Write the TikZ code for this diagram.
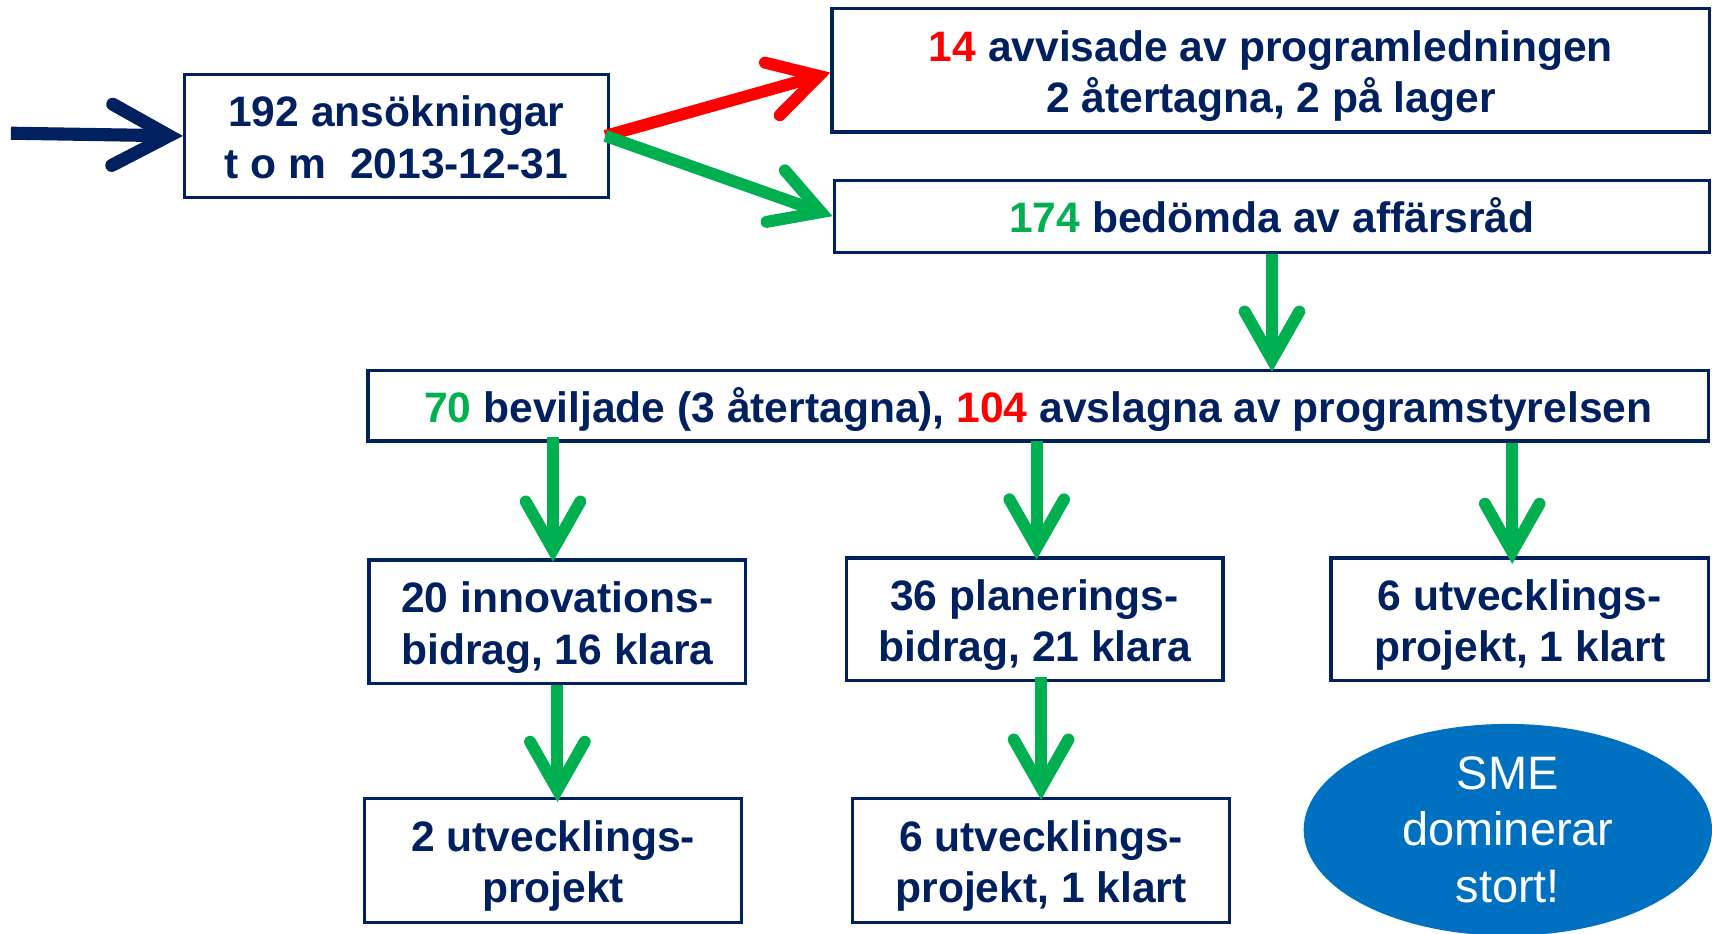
\documentclass[tikz,border=0pt]{standalone}
\usepackage{fontspec}
\setmainfont{Liberation Sans}
\usetikzlibrary{arrows.meta,shapes.geometric}
\definecolor{navy}{HTML}{002060}
\definecolor{grn}{HTML}{00B050}
\definecolor{rd}{HTML}{FF0000}
\definecolor{sme}{HTML}{0070C0}
\newcommand{\boxtext}[1]{\raisebox{-12pt}[0pt][0pt]{\begin{tabular}{@{}c@{}}#1\end{tabular}}}
\tikzset{
  box/.style={draw=navy, line width=3pt, fill=white, text=navy,
    font=\fontsize{39}{47}\selectfont\bfseries, inner sep=0pt},
  headtip/.style={-{Straight Barb[length=44pt,width=50pt,line cap=round,line join=miter]}},
  flow/.style={draw=grn, line width=11pt, headtip},
  reject/.style={draw=rd, line width=11pt, headtip},
  inflow/.style={draw=navy, line width=12pt, -{Straight Barb[length=52pt,width=56pt,line cap=round,line join=miter]}},
}
\begin{document}
\begin{tikzpicture}[x=1pt,y=-1pt]
\useasboundingbox (0,0) rectangle (1568,855);
\node[box, minimum width=388pt, minimum height=113pt] (A) at (363,124.5)
  {\boxtext{192 ansökningar\\t o m~~2013-12-31}};
\node[box, minimum width=804pt, minimum height=113pt] (B) at (1164,64.5)
  {\boxtext{\textcolor{rd}{14} avvisade av programledningen\\2 återtagna, 2 på lager}};
\node[box, minimum width=802pt, minimum height=66pt] (C) at (1165,198)
  {\boxtext{\textcolor{grn}{174} bedömda av affärsråd}};
\node[box, minimum width=1228pt, minimum height=65pt] (D) at (951,371.5)
  {\boxtext{\textcolor{grn}{70} beviljade (3 återtagna), \textcolor{rd}{104} avslagna av programstyrelsen}};
\node[box, minimum width=345pt, minimum height=113pt] (E1) at (510.5,569.5)
  {\boxtext{20 innovations-\\bidrag, 16 klara}};
\node[box, minimum width=345pt, minimum height=112pt] (E2) at (947.5,567)
  {\boxtext{36 planerings-\\bidrag, 21 klara}};
\node[box, minimum width=346pt, minimum height=112pt] (E3) at (1392,567)
  {\boxtext{6 utvecklings-\\projekt, 1 klart}};
\node[box, minimum width=345pt, minimum height=114pt] (F1) at (506.5,788)
  {\boxtext{2 utvecklings-\\projekt}};
\node[box, minimum width=345pt, minimum height=114pt] (F2) at (953.5,788)
  {\boxtext{6 utvecklings-\\projekt, 1 klart}};
\node[ellipse, fill=sme, text=white, minimum width=374pt, minimum height=194pt,
  inner sep=0pt, align=center, font=\fontsize{43}{52}\selectfont] (G) at (1381,760)
  {SME\\dominerar\\stort!};
\coordinate (in) at (10,122);
\draw[inflow] (in) -- (A.west);
\draw[reject] ([xshift=-4pt]A.east) -- ([yshift=-2pt]B.west);
\draw[flow] ([xshift=-4pt]A.east) -- (C.west);
\draw[flow] (C.south) -- ([yshift=-3pt]C.south |- D.north);
\draw[flow] ([xshift=-4pt,yshift=5pt]E1.north |- D.south) -- ([xshift=-4pt,yshift=-3pt]E1.north);
\draw[flow] ([xshift=2pt,yshift=2pt]E2.north |- D.south) -- ([xshift=2pt,yshift=-3pt]E2.north);
\draw[flow] ([xshift=-7pt]E3.north |- D.south) -- ([xshift=-7pt,yshift=-7pt]E3.north);
\draw[flow] ([xshift=0pt]E1.south) -- ([yshift=-5pt]E1.south |- F1.north);
\draw[flow] ([yshift=4pt]F2.north |- E2.south) -- ([yshift=-3pt]F2.north);
\end{tikzpicture}
\end{document}
